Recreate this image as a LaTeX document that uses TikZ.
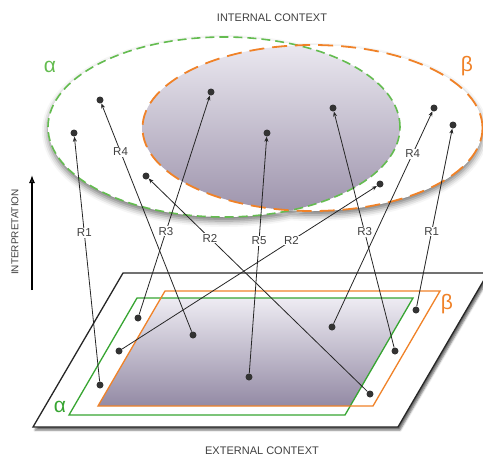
\documentclass[tikz,border=0pt]{standalone}
\usepackage{fontspec}
\setmainfont{Liberation Sans}
\usetikzlibrary{arrows.meta,shadows.blur}
\definecolor{gtop}{RGB}{100,188,80}
\definecolor{gbot}{RGB}{55,165,50}
\definecolor{orangeC}{RGB}{240,130,40}
\definecolor{stop}{RGB}{238,236,243}
\definecolor{sbot}{RGB}{155,145,170}
\definecolor{pbot}{RGB}{140,130,158}
\begin{document}
\begin{tikzpicture}[x=1pt,y=-1pt,
  dot/.style={circle,fill=black!80,inner sep=0pt,minimum size=7pt},
  rel/.style={line width=0.8pt,draw=black!85,-{Stealth[length=5pt,width=4pt]}},
  lab/.style={fill=white,inner sep=0.8pt,font=\fontsize{11.5}{12}\selectfont,text=black!75},
  ctx/.style={font=\fontsize{11}{12}\selectfont,text=black!75},
  greek/.style={font=\fontsize{21}{22}\selectfont}]
\useasboundingbox (0,0) rectangle (483,459);

% ---------- internal context ----------
\node[ctx] (intctx) at (272,18) {INTERNAL CONTEXT};
\fill[white, blur shadow={shadow xshift=0pt,shadow yshift=-4pt,shadow blur radius=6pt,shadow opacity=55}]
  (224,127) ellipse [x radius=176pt,y radius=90pt]
  (312.5,128) ellipse [x radius=170pt,y radius=83pt];
\begin{scope}
  \clip (312.5,128) ellipse [x radius=170pt,y radius=83pt];
  \shade[top color=stop,bottom color=sbot] (224,127) ellipse [x radius=176pt,y radius=90pt];
\end{scope}
\draw[gtop,line width=1.6pt,dash pattern=on 9pt off 5pt] (224,127) ellipse [x radius=176pt,y radius=90pt];
\draw[orangeC,line width=1.8pt,dash pattern=on 15pt off 8pt] (312.5,128) ellipse [x radius=170pt,y radius=83pt];
\node[greek,text=gtop] (alphaT) at (50,67) {α};
\node[greek,text=orangeC] (betaT) at (467,66) {β};

% ---------- external context ----------
\filldraw[fill=white,draw=black!85,line width=1.3pt,
  blur shadow={shadow xshift=2pt,shadow yshift=-3pt,shadow blur radius=2pt,shadow opacity=60}]
  (123,273) -- (488,273) -- (398,427) -- (33,427) -- cycle;
\begin{scope}
  \clip (165,291) -- (440,291) -- (373,406) -- (98,406) -- cycle;
  \shade[top color=stop,bottom color=pbot] (137,298) -- (413,298) -- (345,415) -- (69,415) -- cycle;
\end{scope}
\draw[gbot,line width=1.3pt] (137,298) -- (413,298) -- (345,415) -- (69,415) -- cycle;
\draw[orangeC,line width=1.3pt] (165,291) -- (440,291) -- (373,406) -- (98,406) -- cycle;
\node[greek,text=gbot] (alphaB) at (60,407) {α};
\node[greek,text=orangeC] (betaB) at (447,304) {β};
\node[ctx] (extctx) at (262,451) {EXTERNAL CONTEXT};

% ---------- interpretation axis ----------
\node[ctx,rotate=90,font=\fontsize{10}{12}\selectfont] (interp) at (15,232) {INTERPRETATION};
\coordinate (ia) at (32,290);
\coordinate (ib) at (32,175);
\draw[line width=1.2pt,-{Latex[length=8pt,width=6pt]}] (ia) -- (ib);

% ---------- dots ----------
\node[dot] (t1) at (74,133) {};
\node[dot] (t2) at (100,100) {};
\node[dot] (t3) at (211,92) {};
\node[dot] (t4) at (146,176) {};
\node[dot] (t5) at (267,133) {};
\node[dot] (t6) at (380,184) {};
\node[dot] (t7) at (333,108) {};
\node[dot] (t8) at (434,108) {};
\node[dot] (t9) at (453,125) {};

\node[dot] (b1) at (100,385) {};
\node[dot] (b2) at (193,335) {};
\node[dot] (b3) at (138,318) {};
\node[dot] (b4) at (370,394) {};
\node[dot] (b5) at (249,377) {};
\node[dot] (b6) at (119,351) {};
\node[dot] (b7) at (395,351) {};
\node[dot] (b8) at (332,327) {};
\node[dot] (b9) at (416,310) {};

% ---------- relations ----------
\draw[rel] (b1) -- (t1) node[lab,pos=0.607] {R1};
\draw[rel] (b2) -- (t2) node[lab,pos=0.787] {R4};
\draw[rel] (b3) -- (t3) node[lab,pos=0.38] {R3};
\draw[rel] (b4) -- (t4) node[lab,pos=0.72] {R2};
\draw[rel] (b5) -- (t5) node[lab,pos=0.56] {R5};
\draw[rel] (b6) -- (t6) node[lab,pos=0.665] {R2};
\draw[rel] (b7) -- (t7) node[lab,pos=0.49] {R3};
\draw[rel] (b8) -- (t8) node[lab,pos=0.80] {R4};
\draw[rel] (b9) -- (t9) node[lab,pos=0.42] {R1};
\end{tikzpicture}
\end{document}
